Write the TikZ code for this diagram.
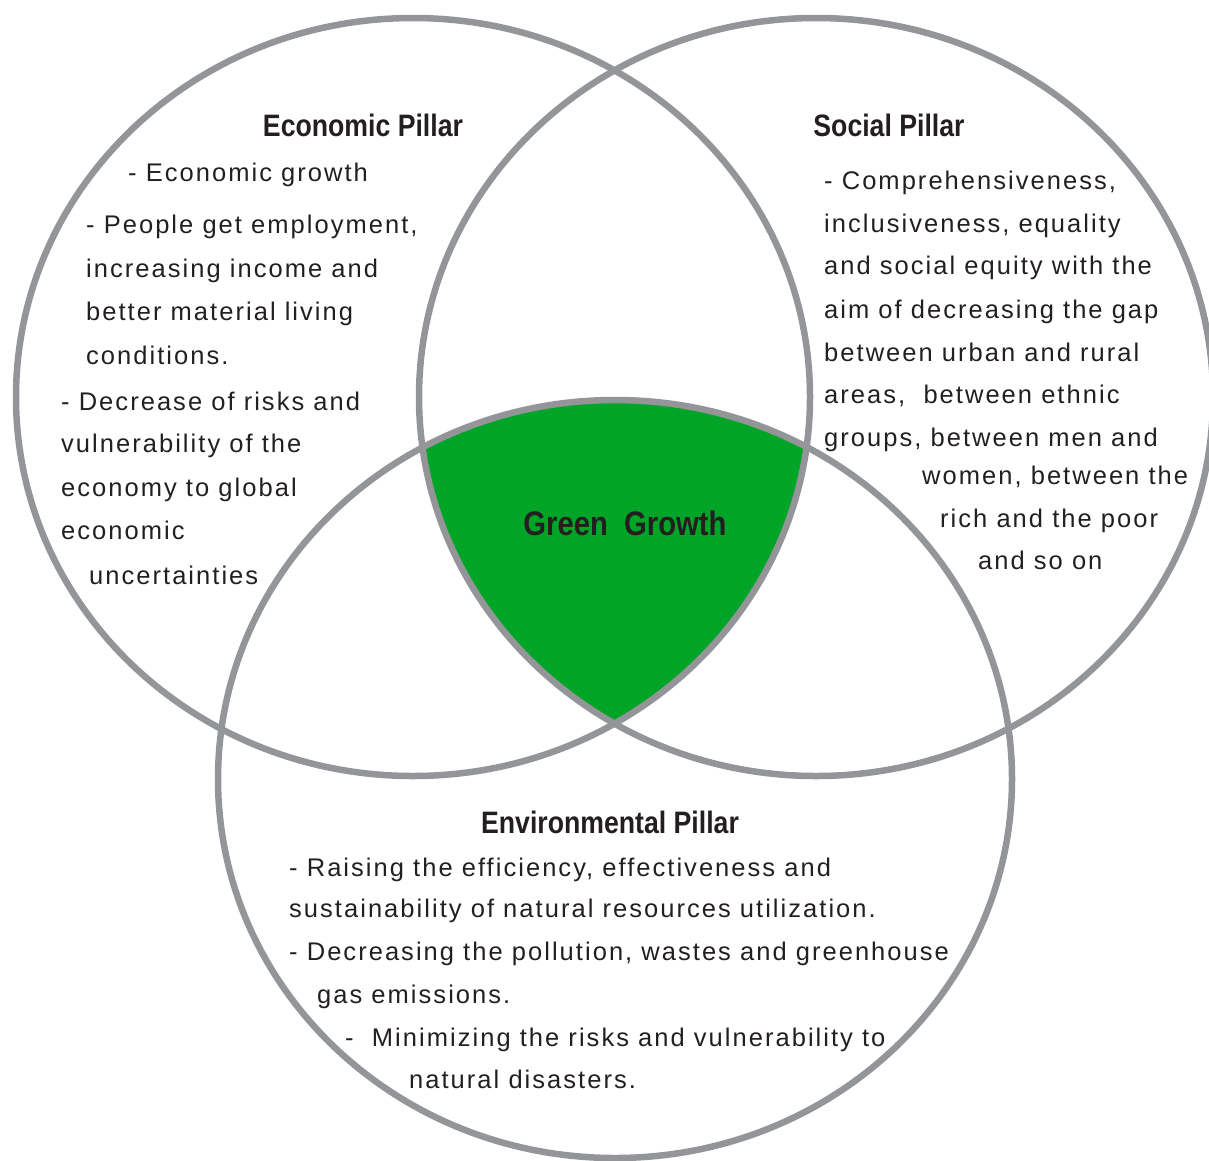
\documentclass[tikz,border=0pt]{standalone}
\usepackage{fontspec}
\setmainfont{Liberation Sans}
\newfontfamily\bodyfont[LetterSpace=8]{Liberation Sans}
\newfontfamily\titlefont[FakeStretch=0.86]{Liberation Sans}
\definecolor{ringgray}{RGB}{147,149,153}
\definecolor{leaf}{RGB}{0,165,40}
\definecolor{ink}{RGB}{35,31,32}
\begin{document}
\begin{tikzpicture}[x=1pt,y=-1pt,
  pillar/.style={draw=ringgray, line width=6.5pt},
  body/.style={anchor=base west, inner sep=0pt, text=ink, font=\bodyfont\fontsize{25.5}{30}\selectfont},
  head/.style={anchor=base, inner sep=0pt, text=ink, font=\titlefont\bfseries\fontsize{31}{36}\selectfont},
  core/.style={anchor=base, inner sep=0pt, text=ink, font=\titlefont\bfseries\fontsize{34}{40}\selectfont}]
\useasboundingbox (0,0) rectangle (1209,1160);
% green intersection
\begin{scope}
  \clip (413,397) ellipse [x radius=397pt, y radius=379pt];
  \clip (816,397) ellipse [x radius=397pt, y radius=379pt];
  \fill[leaf] (615,779) ellipse [x radius=397pt, y radius=379pt];
\end{scope}
% circles
\draw[pillar] (413,397) ellipse [x radius=397pt, y radius=379pt];
\draw[pillar] (816,397) ellipse [x radius=397pt, y radius=379pt];
\draw[pillar] (615,779) ellipse [x radius=397pt, y radius=379pt];
% Economic
\node[head] (ecoT) at (363,136) {Economic Pillar};
\node[body] (eco1) at (128,181) {- Economic growth};
\node[body] (eco2) at (86,233) {- People get employment,};
\node[body] (eco3) at (86,277) {increasing income and};
\node[body] (eco4) at (86,320) {better material living};
\node[body] (eco5) at (86,364) {conditions.};
\node[body] (eco6) at (61,410) {- Decrease of risks and};
\node[body] (eco7) at (61,452) {vulnerability of the};
\node[body] (eco8) at (61,496) {economy to global};
\node[body] (eco9) at (61,539) {economic};
\node[body] (eco10) at (89,584) {uncertainties};
% Social
\node[head] (socT) at (889,136) {Social Pillar};
\node[body] (soc1) at (824,189) {- Comprehensiveness,};
\node[body] (soc2) at (824,232) {inclusiveness, equality};
\node[body] (soc3) at (824,274) {and social equity with the};
\node[body] (soc4) at (824,318) {aim of decreasing the gap};
\node[body] (soc5) at (824,361) {between urban and rural};
\node[body] (soc6) at (824,403) {areas,~ between ethnic};
\node[body] (soc7) at (824,446) {groups, between men and};
\node[body] (soc8) at (922,484) {women, between the};
\node[body] (soc9) at (940,527) {rich and the poor};
\node[body] (soc10) at (978,569) {and so on};
% Green growth
\node[core] (gg) at (625,535) {Green~ Growth};
% Environmental
\node[head] (envT) at (610,833) {Environmental Pillar};
\node[body] (env1) at (289,876) {- Raising the efficiency, effectiveness and};
\node[body] (env2) at (289,917) {sustainability of natural resources utilization.};
\node[body] (env3) at (289,960) {- Decreasing the pollution, wastes and greenhouse};
\node[body] (env4) at (317,1003) {gas emissions.};
\node[body] (env5) at (345,1046) {-~ Minimizing the risks and vulnerability to};
\node[body] (env6) at (409,1088) {natural disasters.};
\end{tikzpicture}
\end{document}
